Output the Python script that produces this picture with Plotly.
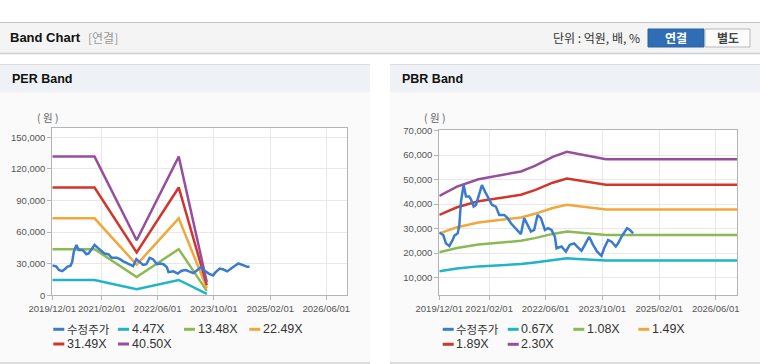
import plotly.graph_objects as go

W, H = 760, 364

# ---------------- data ----------------
price_dates = ["2019-12-01","2020-01-04","2020-01-27","2020-02-25","2020-03-25","2020-04-08","2020-05-07",
               "2020-05-21","2020-06-04","2020-06-27","2020-07-17","2020-08-14","2020-08-29","2020-09-21",
               "2020-10-11","2020-11-08","2020-12-01","2020-12-30","2021-01-28","2021-02-25","2021-03-31",
               "2021-04-29","2021-06-11","2021-07-10","2021-08-07","2021-09-19","2021-11-01","2021-11-29",
               "2021-12-28","2022-01-26","2022-02-23","2022-03-24","2022-04-22","2022-05-26","2022-06-23",
               "2022-07-22","2022-08-20","2022-09-03","2022-10-16","2022-11-22","2022-12-26","2023-02-01",
               "2023-02-27","2023-04-06","2023-05-04","2023-06-10","2023-07-14","2023-08-18","2023-09-24",
               "2023-10-17","2023-11-20","2023-12-19","2024-01-25","2024-02-14","2024-03-14","2024-05-01",
               "2024-05-25","2024-06-22"]
price = [28400,27400,24000,22900,25400,27100,28100,31500,41000,47800,43100,43100,42000,39000,39700,44500,
         47800,44900,42400,39700,39000,35600,35600,34300,32200,30200,27800,34300,31500,28800,29500,35600,
         34300,29500,30200,29500,26700,22000,22700,20600,23400,24000,22700,21000,23400,26700,23400,20600,
         18900,22000,25400,24700,22700,24000,26700,30200,29500,28100]
per_price_tail_dates = ["2024-07-15", "2024-08-05"]
per_price_tail = [27000, 27000]

per_dates = ["2019-12-01", "2020-12-01", "2021-12-01", "2022-12-01", "2023-08-01"]
per_names = ["4.47X", "13.48X", "22.49X", "31.49X", "40.50X"]
per_447 = [14528, 14528, 5766, 14528, 1386]
per_1348 = [43810, 43810, 17389, 43810, 4179]
per_2249 = [73093, 73093, 29012, 73093, 6972]
per_3149 = [102343, 102343, 40622, 102343, 9762]
per_4050 = [131625, 131625, 52245, 131625, 12555]

pbr_dates = ["2019-12-01", "2020-05-01", "2020-11-01", "2021-05-01", "2021-11-01", "2022-03-01",
             "2022-08-01", "2022-12-01", "2023-03-01", "2023-07-01", "2023-11-01", "2026-12-01"]
pbr_names = ["0.67X", "1.08X", "1.49X", "1.89X", "2.30X"]
pbr_067 = [12630, 13735, 14606, 15042, 15544, 16214, 17286, 17889, 17655, 17353, 16991, 16991]
pbr_108 = [20358, 22140, 23544, 24246, 25056, 26136, 27864, 28836, 28458, 27972, 27389, 27389]
pbr_149 = [28087, 30545, 32482, 33451, 34568, 36058, 38442, 39783, 39262, 38591, 37786, 37786]
pbr_189 = [35627, 38745, 41202, 42431, 43848, 45738, 48762, 50463, 49802, 48951, 47930, 47930]
pbr_230 = [43355, 47150, 50140, 51635, 53360, 55660, 59340, 61410, 60605, 59570, 58328, 58328]

x_tickvals = ["2019-12-01", "2021-02-01", "2022-06-01", "2023-10-01", "2025-02-01", "2026-06-01"]
x_ticktext = ["2019/12/01", "2021/02/01", "2022/06/01", "2023/10/01", "2025/02/01", "2026/06/01"]
per_yticks = [0, 30000, 60000, 90000, 120000, 150000]
pbr_yticks = [10000, 20000, 30000, 40000, 50000, 60000, 70000]
price_name = "수정주가"

colors = ["#3a7bcf", "#1fb4c6", "#8cba52", "#f2a73b", "#d1362c", "#964f9c"]

# ---------------- helpers ----------------
def px(x):
    return x / W

def py(y):
    return 1 - y / H

LAT = "'Liberation Sans', Arial, 'Noto Sans CJK KR', sans-serif"
KR = "'Noto Sans CJK KR', 'Liberation Sans', sans-serif"

fig = go.Figure()

LW = 2.5
# PER traces (bands first, price on top)
for i, vals in enumerate([per_447, per_1348, per_2249, per_3149, per_4050]):
    fig.add_trace(go.Scatter(x=per_dates, y=vals, mode="lines", line=dict(color=colors[i + 1], width=LW),
                             xaxis="x", yaxis="y", name=per_names[i]))
fig.add_trace(go.Scatter(x=price_dates + per_price_tail_dates, y=price + per_price_tail, mode="lines",
                         line=dict(color=colors[0], width=LW), xaxis="x", yaxis="y", name=price_name))
# PBR traces
for i, vals in enumerate([pbr_067, pbr_108, pbr_149, pbr_189, pbr_230]):
    fig.add_trace(go.Scatter(x=pbr_dates, y=vals, mode="lines", line=dict(color=colors[i + 1], width=LW),
                             xaxis="x2", yaxis="y2", name=pbr_names[i]))
fig.add_trace(go.Scatter(x=price_dates, y=price, mode="lines",
                         line=dict(color=colors[0], width=LW), xaxis="x2", yaxis="y2", name=price_name))

tickfont = dict(family=LAT, size=9.5, color="#555555")
axis_common = dict(showline=True, mirror=True, linecolor="#b4b4b4", linewidth=1,
                   showgrid=True, gridcolor="#e8e8e8", gridwidth=1, zeroline=False,
                   ticks="outside", ticklen=4, tickcolor="#b4b4b4", tickfont=tickfont,
                   automargin=False, fixedrange=True, tickangle=0)

fig.update_layout(
    width=W, height=H, autosize=False,
    margin=dict(l=0, r=0, t=0, b=0, pad=0),
    paper_bgcolor="white", plot_bgcolor="rgba(0,0,0,0)",
    showlegend=False,
    xaxis=dict(domain=[px(52.3), px(347.3)], type="date", range=["2019-12-01", "2026-12-01"],
               tickvals=x_tickvals, ticktext=x_ticktext, anchor="y", **axis_common),
    yaxis=dict(domain=[py(295.3), py(128.3)], range=[0, 158500], tickvals=per_yticks,
               tickformat=",d", anchor="x", **axis_common),
    xaxis2=dict(domain=[px(439.3), px(737)], type="date", range=["2019-12-01", "2026-12-01"],
                tickvals=x_tickvals, ticktext=x_ticktext, anchor="y2", **axis_common),
    yaxis2=dict(domain=[py(295.3), py(130.3)], range=[2800, 70150], tickvals=pbr_yticks,
                tickformat=",d", anchor="x2", **axis_common),
)

shapes = []
annotations = []

def rect(x0, y0, x1, y1, fill, line_color=None, lw=0):
    shapes.append(dict(type="rect", xref="paper", yref="paper", x0=px(x0), x1=px(x1), y0=py(y1), y1=py(y0),
                       fillcolor=fill, line=dict(color=line_color or fill, width=lw), layer="below"))

def hline(x0, x1, y, color, width=1):
    shapes.append(dict(type="line", xref="paper", yref="paper", x0=px(x0), x1=px(x1), y0=py(y), y1=py(y),
                       line=dict(color=color, width=width), layer="below"))

def text(x, y, s, size=12, color="#333", family=LAT, xanchor="left", bold=False):
    if bold:
        s = "<b>" + s + "</b>"
    annotations.append(dict(xref="paper", yref="paper", x=px(x), y=py(y), text=s, showarrow=False,
                            xanchor=xanchor, yanchor="middle", borderpad=0,
                            font=dict(size=size, color=color, family=family)))

# top header bar
rect(0, 22, 760, 53, "#f4f4f4")
hline(0, 760, 22.5, "#c4c4c4", 1)
hline(0, 760, 53.5, "#cfcfcf", 1.5)
text(9, 38, "Band Chart", 13, "#111111", LAT, bold=True)
text(87, 38, "[연결]", 12, "#999999", KR)
text(641, 38, "단위 : 억원, 배, %", 12, "#333333", KR, xanchor="right")
rect(648, 29, 704, 47, "#2f6db5", "#2a63a5", 1)
rect(705, 29, 750, 47, "#fbfbfb", "#b8b8b8", 1)
text(676, 38, "연결", 12, "white", KR, xanchor="center", bold=True)
text(727.5, 38, "별도", 12, "#444444", KR, xanchor="center", bold=True)

# panels
for (x0, x1, title) in [(0, 370, "PER Band"), (390, 760, "PBR Band")]:
    rect(x0, 64, x1, 363, "#fafafa")
    rect(x0, 64, x1, 92.5, "#eef2f7")
    hline(x0, x1, 64.5, "#dcdcdc", 1)
    hline(x0, x1, 363, "#d0d0d0", 1.5)
    text(x0 + 11, 79, title, 12.5, "#111111", LAT, bold=True)

# white plot areas
rect(52.3, 128.3, 347.3, 295.3, "white")
rect(439.3, 130.3, 737, 295.3, "white")

text(47.5, 118, "( 원 )", 10.5, "#666666", KR, xanchor="center")
text(434, 118, "( 원 )", 10.5, "#666666", KR, xanchor="center")

# manual legends
def legend(items, cols_x, rows_y):
    for idx, (label, col) in enumerate(items):
        r, c = divmod(idx, 4)
        x = cols_x[c]
        y = rows_y[r]
        shapes.append(dict(type="line", xref="paper", yref="paper", x0=px(x), x1=px(x + 11),
                           y0=py(y), y1=py(y), line=dict(color=col, width=3)))
        fam = KR if label == price_name else LAT
        size = 11.5 if label == price_name else 12.5
        text(x + 12.5, y, label, size, "#333333", fam)

legend([(price_name, colors[0])] + list(zip(per_names, colors[1:])), [53.3, 118, 184, 249.3], [329.3, 344])
legend([(price_name, colors[0])] + list(zip(pbr_names, colors[1:])), [442.7, 507.7, 573.3, 638.3], [329.3, 344.3])

fig.update_layout(shapes=shapes, annotations=annotations)
fig.write_html("out.html", config={"displayModeBar": False, "staticPlot": True},
               post_script="document.body.style.margin='0';document.body.style.overflow='hidden';")
